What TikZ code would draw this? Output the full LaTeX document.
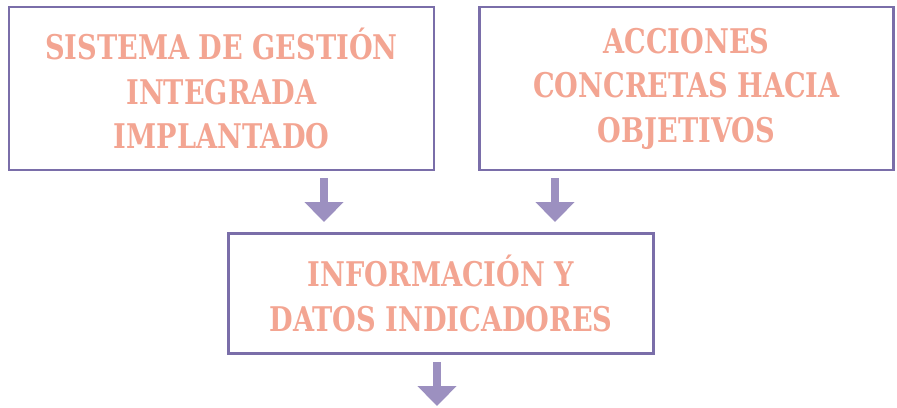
\documentclass[tikz,border=0pt]{standalone}
\usepackage{fontspec}
\setmainfont{DejaVu Serif}[FakeStretch=0.8]
\usetikzlibrary{arrows.meta}
\definecolor{boxline}{HTML}{7A6EA9}
\definecolor{arrowcol}{HTML}{9C90C0}
\definecolor{txtcol}{HTML}{F3A592}
\tikzset{
  boxnode/.style={draw=boxline, line width=2.6pt, rectangle, inner sep=0pt,
    text=txtcol, align=center, font=\bfseries\fontsize{34}{44.5}\selectfont},
  arr/.style={draw=arrowcol, line width=8pt,
    -{Triangle[width=38pt,length=20pt]}, arrowcol, shorten >=0pt}
}
\begin{document}
\begin{tikzpicture}[x=1pt,y=-1pt]
\useasboundingbox (0,0) rectangle (897,407);
\node[boxnode, minimum width=425pt, minimum height=163pt] (b1) at (221.5,88.5)
  {SISTEMA DE GESTIÓN\\INTEGRADA\\IMPLANTADO};
\node[boxnode, minimum width=414pt, minimum height=163pt] (b2) at (686.5,88.5)
  {ACCIONES\\CONCRETAS HACIA\\OBJETIVOS};
\node[boxnode, minimum width=425pt, minimum height=120pt] (b3) at (441,293.5)
  {INFORMACIÓN Y\\DATOS INDICADORES};
\coordinate (a1s) at (324,178);
\coordinate (a1e) at (324,222);
\coordinate (a2s) at (555,178);
\coordinate (a2e) at (555,222);
\coordinate (a3s) at (437,362);
\coordinate (a3e) at (437,406);
\draw[arr] (a1s) -- (a1e);
\draw[arr] (a2s) -- (a2e);
\draw[arr] (a3s) -- (a3e);
\end{tikzpicture}
\end{document}
